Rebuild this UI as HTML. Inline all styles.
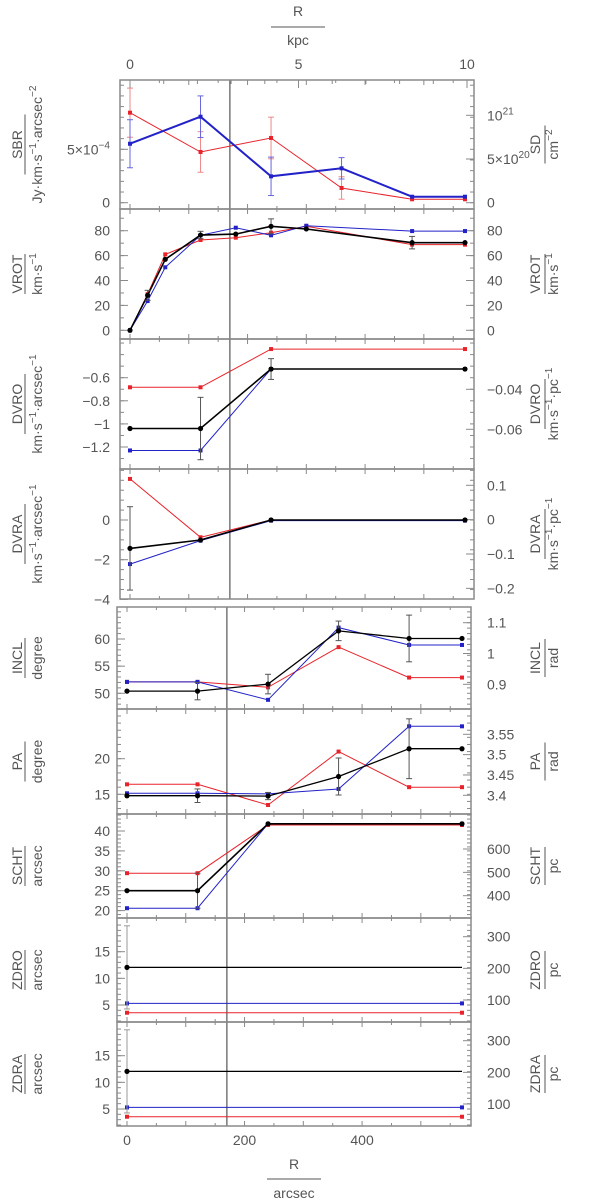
<!DOCTYPE html>
<html><head><meta charset="utf-8"><style>
html,body{margin:0;padding:0;background:#fff;}
svg{display:block;font-family:"Liberation Sans",sans-serif;}
</style></head><body>
<svg id="c" width="600" height="1200" viewBox="0 0 600 1200" xmlns="http://www.w3.org/2000/svg"></svg>
<script>
// ---- data ----
const rSBR=[0,120,240,360,480,570];
const sbrRed=[8.43,4.75,6.06,1.38,0.32,0.32];
const sbrRedErr=[2.3,1.9,1.95,1.05,0,0];
const sbrBlue=[5.52,8.05,2.47,3.22,0.56,0.56];
const sbrBlueErr=[2.25,1.95,1.8,1.0,0,0];
const rVrot=[0,30,60,120,180,240,300,480,570];
const vrotBlack=[0,28.1,57,76.5,77.3,83.5,81.4,70.4,70.4];
const vrotBlackErr=[0,4,0,3,0,6,0,5,0];
const vrotRed=[0,29,61,72.5,74.4,78.4,83.5,68.8,68.8];
const vrotBlue=[0,23.5,50.6,76.3,82.4,76.3,84,79.7,79.7];
const r4=[0,120,240,570];
const dvroBlack=[-1.04,-1.04,-0.525,-0.525];
const dvroBlackErr=[0,0.27,0.09,0];
const dvroRed=[-0.683,-0.683,-0.352,-0.352];
const dvroBlue=[-1.23,-1.23,-0.525,-0.525];
const dvraBlack=[-1.43,-1.01,0,0];
const dvraBlackErr=[2.1,0,0,0];
const dvraRed=[2.07,-0.87,0,0];
const dvraBlue=[-2.22,-1.04,-0.03,-0.03];
const r6=[0,120,240,360,480,570];
const inclBlack=[50.4,50.4,51.7,61.5,60.1,60.1];
const inclBlackErr=[0,1.6,1.8,1.8,4.3,0];
const inclRed=[52.1,52.1,51.1,58.5,52.9,52.9];
const inclBlue=[52.1,52.1,48.8,62.1,58.9,58.9];
const paBlack=[14.8,14.8,14.75,17.5,21.4,21.4];
const paBlackErr=[0,0.95,0.5,2.6,4.2,0];
const paRed=[16.4,16.4,13.5,21.0,16.0,16.0];
const paBlue=[15.14,15.14,15.05,15.75,24.55,24.55];
const schtBlack=[25,25,41.8,41.8];
const schtBlackErr=[0,4.4,0,0];
const schtRed=[29.4,29.4,41.5,41.5];
const schtBlue=[20.6,20.6,41.8,41.8];
const r2=[0,570];
const zdroBlack=[12.06,12.06];
const zdroBlackErr=[7.8,0];
const zdroRed=[3.55,3.55];
const zdroBlue=[5.3,5.3];
const zdraBlack=[12.06,12.06];
const zdraBlackErr=[7.8,0];
const zdraRed=[3.55,3.55];
const zdraBlue=[5.3,5.3];
const bottomTicks=["0","200","400"];
const bottomTickVals=[0,200,400];
const kpcTicks=["0","5","10"];
const kpcTickVals=[0,5,10];

const svg=document.getElementById('c');
const NS="http://www.w3.org/2000/svg";
function mk(tag,attrs,parent){const e=document.createElementNS(NS,tag);for(const k in attrs)e.setAttribute(k,attrs[k]);(parent||svg).appendChild(e);return e;}
const RED="#e8232a",BLUE="#2222c8",BLK="#000",FR="#8a8a8a",TXT="#555";

function xTop(r){return 130+0.5877*r;}
function xBot(r){return 127+0.5877*r;}

// parts: [text, isSup]
function richText(x,y,parts,anchor,rot,size,name){
  size=size||13;
  const t=mk('text',{x:x,y:y,'font-size':size,fill:TXT,'text-anchor':anchor||'middle'});
  if(rot)t.setAttribute('transform','rotate(-90 '+x+' '+y+')');
  
  
  let up=false;
  parts.forEach(p=>{const s=mk('tspan',{},t);
    if(p[1]){s.setAttribute('font-size',size*0.72);if(!up){s.setAttribute('dy',-6);up=true;}}
    else if(up){s.setAttribute('dy',6);up=false;}
    s.textContent=p[0];});
  return t;
}

function panel(P){
  const g=mk('g',{});
  
  
  const xs=P.x;
  const ys=v=>P.p1+(v-P.v1)*(P.p2-P.p1)/(P.v2-P.v1);
  const L=P.left,Rr=P.right;
  if(P.minor){for(let v=P.minor[0];v<=P.minor[1]+1e-9;v+=P.minor[2]){const y=ys(v);if(y<P.top||y>P.bot)continue;mk('line',{x1:L,x2:L+4,y1:y,y2:y,stroke:FR,'stroke-width':1},g);mk('line',{x1:Rr-4,x2:Rr,y1:y,y2:y,stroke:FR,'stroke-width':1},g);}}
  for(let r=0;r<=600;r+=50){const x=xs(r);if(x<L||x>Rr)continue;const h=r%100===0?5:3;mk('line',{x1:x,x2:x,y1:P.bot,y2:P.bot-h,stroke:FR,'stroke-width':1},g);mk('line',{x1:x,x2:x,y1:P.top,y2:P.top+h,stroke:FR,'stroke-width':1},g);}
  P.lt.forEach(tk=>{const y=ys(tk[0]);mk('line',{x1:L,x2:L+8,y1:y,y2:y,stroke:FR,'stroke-width':1},g);richText(110,y+5,tk[1],'end',false,14,P.name+'-left-tick');});
  if(P.rt){const rs=v=>P.rp1+(v-P.rv1)*(P.rp2-P.rp1)/(P.rv2-P.rv1);P.rt.forEach(tk=>{const y=rs(tk[0]);mk('line',{x1:Rr-8,x2:Rr,y1:y,y2:y,stroke:FR,'stroke-width':1},g);richText(487,y+5,tk[1],'start',false,14,P.name+'-right-tick');});}
  mk('line',{x1:xs(170),x2:xs(170),y1:P.top,y2:P.bot,stroke:'#333','stroke-width':1},g);
  P.series.forEach(s=>{
    const pts=s.r.map((r,i)=>xs(r).toFixed(1)+','+ys(s.v[i]).toFixed(1)).join(' ');
    const pl=mk('polyline',{points:pts,fill:'none',stroke:s.c,'stroke-width':s.w||1},g);
    
    
    s.r.forEach((r,i)=>{
      const x=xs(r),y=ys(s.v[i]);
      if(s.e&&s.e[i]>0){const y1=ys(s.v[i]+s.e[i]),y2=ys(s.v[i]-s.e[i]);const ec=s.ec||'#777';
        mk('line',{x1:x,x2:x,y1:y1,y2:y2,stroke:ec,'stroke-width':1},g);
        mk('line',{x1:x-3,x2:x+3,y1:y1,y2:y1,stroke:ec,'stroke-width':1},g);
        mk('line',{x1:x-3,x2:x+3,y1:y2,y2:y2,stroke:ec,'stroke-width':1},g);}
      if(s.nomark&&i>0)return;
      let m;
      if(s.c===BLK) m=mk('circle',{cx:x,cy:y,r:2.6,fill:BLK},g);
      else m=mk('rect',{x:x-2,y:y-2,width:4,height:4,fill:s.c},g);
      
      
    });
  });
  mk('rect',{x:L,y:P.top,width:Rr-L,height:P.bot-P.top,fill:'none',stroke:FR,'stroke-width':1.5},g);
  const cy=(P.top+P.bot)/2;
  richText(22,cy,[[P.lab]],'middle',true,14,P.name+'-y-axis-title');
  mk('line',{x1:25,x2:25,y1:cy-P.ll/2,y2:cy+P.ll/2,stroke:TXT,'stroke-width':1},g);
  richText(42,cy,P.unitL,'middle',true,14,P.name+'-y-axis-unit');
  richText(540,cy,[[P.rlab]],'middle',true,14,P.name+'-right-axis-title');
  mk('line',{x1:545,x2:545,y1:cy-P.rl/2,y2:cy+P.rl/2,stroke:TXT,'stroke-width':1},g);
  richText(558,cy,P.unitR,'middle',true,14,P.name+'-right-axis-unit');
}

const T={left:120,right:474,x:xTop}, B={left:117,right:471,x:xBot};
function S(n,c,r,v,e,w,ec,nomark){return {n:n,c:c,r:r,v:v,e:e,w:w,ec:ec,nomark:nomark};}
const minus='\u2212', dot='\u00b7';
const kmsArc=[['km'+dot+'s'],[minus+'1',1],[dot+'arcsec'],[minus+'1',1]];
const kmsPc=[['km'+dot+'s'],[minus+'1',1],[dot+'pc'],[minus+'1',1]];

panel(Object.assign({},T,{name:'sbr',top:80,bot:209,v1:0,p1:202.7,v2:5,p2:149.3,minor:[0,12,1],
 lt:[[0,[['0']]],[5,[['5\u00d710'],[minus+'4',1]]]],
 rv1:0,rp1:202.7,rv2:5,rp2:159,rt:[[0,[['0']]],[5,[['5\u00d710'],['20',1]]],[10,[['10'],['21',1]]]],
 lab:'SBR',ll:60,unitL:[['Jy'+dot+'km'+dot+'s'],[minus+'1',1],[dot+'arcsec'],[minus+'2',1]],rlab:'SD',rl:38,unitR:[['cm'],[minus+'2',1]],
 series:[S('red',RED,rSBR,sbrRed,sbrRedErr,1,'#e88'),S('blue',BLUE,rSBR,sbrBlue,sbrBlueErr,2,'#66d')]}));
panel(Object.assign({},T,{name:'vrot',top:209,bot:339,v1:0,p1:330.3,v2:80,p2:230.7,minor:[-10,90,10],
 lt:[0,20,40,60,80].map(v=>[v,[[String(v)]]]),rv1:0,rp1:330.3,rv2:80,rp2:230.7,rt:[0,20,40,60,80].map(v=>[v,[[String(v)]]]),
 lab:'VROT',ll:40,unitL:[['km'+dot+'s'],[minus+'1',1]],rlab:'VROT',rl:40,unitR:[['km'+dot+'s'],[minus+'1',1]],
 series:[S('red',RED,rVrot,vrotRed,null,1),S('blue',BLUE,rVrot,vrotBlue,null,1),S('black',BLK,rVrot,vrotBlack,vrotBlackErr,1.6,'#555')]}));
panel(Object.assign({},T,{name:'dvro',top:339,bot:469,v1:-0.6,p1:377.7,v2:-1.2,p2:447,minor:[-1.4,-0.3,0.1],
 lt:[[-0.6,[[minus+'0.6']]],[-0.8,[[minus+'0.8']]],[-1,[[minus+'1']]],[-1.2,[[minus+'1.2']]]],
 rv1:-0.04,rp1:389.3,rv2:-0.06,rp2:429.3,rt:[[-0.04,[[minus+'0.04']]],[-0.06,[[minus+'0.06']]]],
 lab:'DVRO',ll:60,unitL:kmsArc,rlab:'DVRO',rl:50,unitR:kmsPc,
 series:[S('red',RED,r4,dvroRed,null,1),S('blue',BLUE,r4,dvroBlue,null,1),S('black',BLK,r4,dvroBlack,dvroBlackErr,1.6,'#555')]}));
panel(Object.assign({},T,{name:'dvra',top:469,bot:599,v1:0,p1:520,v2:-2,p2:559.7,minor:[-4,2.5,0.5],
 lt:[[0,[['0']]],[-2,[[minus+'2']]],[-4,[[minus+'4']]]],
 rv1:0.1,rp1:485.3,rv2:-0.1,rp2:554,rt:[[0.1,[['0.1']]],[0,[['0']]],[-0.1,[[minus+'0.1']]],[-0.2,[[minus+'0.2']]]],
 lab:'DVRA',ll:60,unitL:kmsArc,rlab:'DVRA',rl:50,unitR:kmsPc,
 series:[S('red',RED,r4,dvraRed,null,1),S('blue',BLUE,r4,dvraBlue,null,1),S('black',BLK,r4,dvraBlack,dvraBlackErr,1.6,'#555')]}));
panel(Object.assign({},B,{name:'incl',top:607,bot:709,v1:60,p1:639,v2:50,p2:693.3,minor:[46,65,1],
 lt:[50,55,60].map(v=>[v,[[String(v)]]]),rv1:1.1,rp1:622.7,rv2:0.9,rp2:684.3,rt:[[1.1,[['1.1']]],[1,[['1']]],[0.9,[['0.9']]]],
 lab:'INCL',ll:40,unitL:[['degree']],rlab:'INCL',rl:38,unitR:[['rad']],
 series:[S('red',RED,r6,inclRed,null,1),S('blue',BLUE,r6,inclBlue,null,1),S('black',BLK,r6,inclBlack,inclBlackErr,1.3,'#555')]}));
panel(Object.assign({},B,{name:'pa',top:709,bot:814,v1:20,p1:758.7,v2:15,p2:794.3,minor:[13,27,1],
 lt:[15,20].map(v=>[v,[[String(v)]]]),rv1:3.55,rp1:734.3,rv2:3.4,rp2:795.3,rt:[[3.55,[['3.55']]],[3.5,[['3.5']]],[3.45,[['3.45']]],[3.4,[['3.4']]]],
 lab:'PA',ll:40,unitL:[['degree']],rlab:'PA',rl:38,unitR:[['rad']],
 series:[S('red',RED,r6,paRed,null,1),S('blue',BLUE,r6,paBlue,null,1),S('black',BLK,r6,paBlack,paBlackErr,1.3,'#555')]}));
panel(Object.assign({},B,{name:'scht',top:814,bot:918,v1:40,p1:831,v2:25,p2:890.7,minor:[18,44,1],
 lt:[20,25,30,35,40].map(v=>[v,[[String(v)]]]),rv1:600,rp1:849,rv2:400,rp2:895.7,rt:[400,500,600].map(v=>[v,[[String(v)]]]),
 lab:'SCHT',ll:40,unitL:[['arcsec']],rlab:'SCHT',rl:38,unitR:[['pc']],
 series:[S('red',RED,r4,schtRed,null,1),S('blue',BLUE,r4,schtBlue,null,1),S('black',BLK,r4,schtBlack,schtBlackErr,1.6,'#555')]}));
panel(Object.assign({},B,{name:'zdro',top:918,bot:1022,v1:15,p1:951.7,v2:5,p2:1005,minor:[2,20,1],
 lt:[5,10,15].map(v=>[v,[[String(v)]]]),rv1:300,rp1:936.7,rv2:100,rp2:1000,rt:[100,200,300].map(v=>[v,[[String(v)]]]),
 lab:'ZDRO',ll:40,unitL:[['arcsec']],rlab:'ZDRO',rl:38,unitR:[['pc']],
 series:[S('red',RED,r2,zdroRed,null,1),S('blue',BLUE,r2,zdroBlue,null,1),S('black',BLK,r2,zdroBlack,zdroBlackErr,1.2,'#999',true)]}));
panel(Object.assign({},B,{name:'zdra',top:1022,bot:1126,v1:15,p1:1055.7,v2:5,p2:1109,minor:[2,20,1],
 lt:[5,10,15].map(v=>[v,[[String(v)]]]),rv1:300,rp1:1040.7,rv2:100,rp2:1104,rt:[100,200,300].map(v=>[v,[[String(v)]]]),
 lab:'ZDRA',ll:40,unitL:[['arcsec']],rlab:'ZDRA',rl:38,unitR:[['pc']],
 series:[S('red',RED,r2,zdraRed,null,1),S('blue',BLUE,r2,zdraBlue,null,1),S('black',BLK,r2,zdraBlack,zdraBlackErr,1.2,'#999',true)]}));

bottomTicks.forEach((l,i)=>{richText(xBot(bottomTickVals[i]),1145,[[l]],'middle',false,14,'x-tick-label');});
richText(294,1169,[['R']],'middle',false,14,'x-axis-title');
mk('line',{x1:267,x2:321,y1:1179,y2:1179,stroke:TXT,'stroke-width':1});
richText(294,1198,[['arcsec']],'middle',false,14,'x-axis-unit');
kpcTicks.forEach((l,i)=>{const x=130+kpcTickVals[i]*33.7;richText(x,69,[[l]],'middle',false,14,'kpc-tick-label');});
for(let k=0;k<=10;k++){const x=130+k*33.7;mk('line',{x1:x,x2:x,y1:80,y2:k%5===0?88:84,stroke:FR,'stroke-width':1});}
richText(298,16,[['R']],'middle',false,14,'top-axis-title');
mk('line',{x1:271,x2:325,y1:27,y2:27,stroke:TXT,'stroke-width':1});
richText(298,45,[['kpc']],'middle',false,14,'top-axis-unit');
</script>
</body></html>
